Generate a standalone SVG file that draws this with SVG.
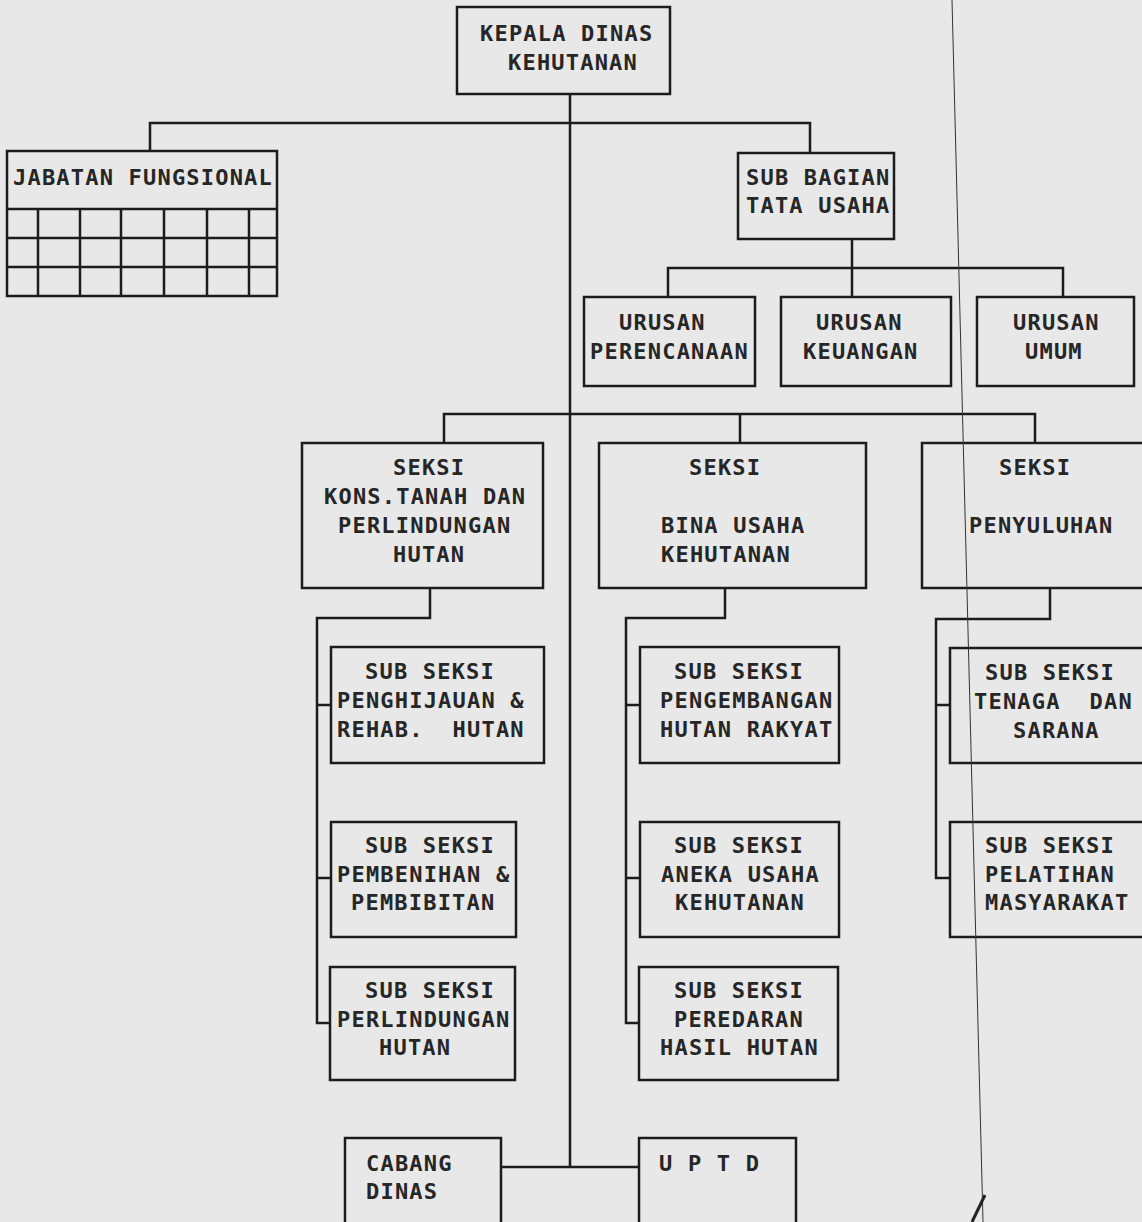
<svg xmlns="http://www.w3.org/2000/svg" width="1142" height="1222" viewBox="0 0 1142 1222">
<style>
.box{fill:none;stroke:#1c1c1c;stroke-width:2.5}
.con{fill:none;stroke:#1c1c1c;stroke-width:2.5}
text{font-family:"DejaVu Sans Mono","Liberation Mono",monospace;font-size:22px;font-weight:bold;letter-spacing:1.2px;fill:#262626}
</style>
<rect width="1142" height="1222" fill="#e8e8e8"/>
<g id="connectors">
<path class="con" d="M570 94 V1167"/>
<path class="con" d="M150 151 V123 H810 V153"/>
<path class="con" d="M852 239 V297 M668 297 V268 H1063 V297"/>
<path class="con" d="M444 443 V414 H1035 V443 M740 414 V443"/>
<path class="con" d="M430 588 V618 H317 V1023 H330 M317 705 H331 M317 878 H331"/>
<path class="con" d="M725 588 V618 H626 V1023 H639 M626 705 H640 M626 878 H640"/>
<path class="con" d="M1050 588 V619 H936 V878 H950 M936 705 H950"/>
<path class="con" d="M501 1167 H639"/>
</g>
<g id="kepala">
<rect class="box" x="457" y="7" width="213" height="87"/>
<text x="480" y="41">KEPALA DINAS</text>
<text x="508" y="70">KEHUTANAN</text>
</g>
<g id="jabatan">
<rect class="box" x="7" y="151" width="270" height="145"/>
<text x="13" y="185">JABATAN FUNGSIONAL</text>
<path class="con" d="M7 209 H277 M7 238 H277 M7 267 H277 M38 209 V296 M80 209 V296 M121 209 V296 M164 209 V296 M207 209 V296 M249 209 V296"/>
</g>
<g id="subbagian">
<rect class="box" x="738" y="153" width="156" height="86"/>
<text x="746" y="185">SUB BAGIAN</text>
<text x="746" y="213">TATA USAHA</text>
</g>
<g id="urusan-perencanaan">
<rect class="box" x="584" y="297" width="171" height="89"/>
<text x="619" y="330">URUSAN</text>
<text x="590" y="359">PERENCANAAN</text>
</g>
<g id="urusan-keuangan">
<rect class="box" x="781" y="297" width="170" height="89"/>
<text x="816" y="330">URUSAN</text>
<text x="803" y="359">KEUANGAN</text>
</g>
<g id="urusan-umum">
<rect class="box" x="977" y="297" width="157" height="89"/>
<text x="1013" y="330">URUSAN</text>
<text x="1025" y="359">UMUM</text>
</g>
<g id="seksi-kons">
<rect class="box" x="302" y="443" width="241" height="145"/>
<text x="393" y="475">SEKSI</text>
<text x="324" y="504">KONS.TANAH DAN</text>
<text x="338" y="533">PERLINDUNGAN</text>
<text x="393" y="562">HUTAN</text>
</g>
<g id="seksi-bina">
<rect class="box" x="599" y="443" width="267" height="145"/>
<text x="689" y="475">SEKSI</text>
<text x="661" y="533">BINA USAHA</text>
<text x="661" y="562">KEHUTANAN</text>
</g>
<g id="seksi-penyuluhan">
<rect class="box" x="922" y="443" width="240" height="145"/>
<text x="999" y="475">SEKSI</text>
<text x="969" y="533">PENYULUHAN</text>
</g>
<g id="ss-penghijauan">
<rect class="box" x="331" y="647" width="213" height="116"/>
<text x="365" y="679">SUB SEKSI</text>
<text x="337" y="708">PENGHIJAUAN &amp;</text>
<text x="337" y="737" xml:space="preserve">REHAB.  HUTAN</text>
</g>
<g id="ss-pembenihan">
<rect class="box" x="331" y="822" width="185" height="115"/>
<text x="365" y="853">SUB SEKSI</text>
<text x="337" y="882">PEMBENIHAN &amp;</text>
<text x="351" y="910">PEMBIBITAN</text>
</g>
<g id="ss-perlindungan">
<rect class="box" x="330" y="967" width="185" height="113"/>
<text x="365" y="998">SUB SEKSI</text>
<text x="337" y="1027">PERLINDUNGAN</text>
<text x="379" y="1055">HUTAN</text>
</g>
<g id="ss-pengembangan">
<rect class="box" x="640" y="647" width="199" height="116"/>
<text x="674" y="679">SUB SEKSI</text>
<text x="660" y="708">PENGEMBANGAN</text>
<text x="660" y="737">HUTAN RAKYAT</text>
</g>
<g id="ss-aneka">
<rect class="box" x="640" y="822" width="199" height="115"/>
<text x="674" y="853">SUB SEKSI</text>
<text x="661" y="882">ANEKA USAHA</text>
<text x="675" y="910">KEHUTANAN</text>
</g>
<g id="ss-peredaran">
<rect class="box" x="639" y="967" width="199" height="113"/>
<text x="674" y="998">SUB SEKSI</text>
<text x="674" y="1027">PEREDARAN</text>
<text x="660" y="1055">HASIL HUTAN</text>
</g>
<g id="ss-tenaga">
<rect class="box" x="950" y="648" width="210" height="115"/>
<text x="985" y="680">SUB SEKSI</text>
<text x="974" y="709" xml:space="preserve">TENAGA  DAN</text>
<text x="1013" y="738">SARANA</text>
</g>
<g id="ss-pelatihan">
<rect class="box" x="950" y="822" width="210" height="115"/>
<text x="985" y="853">SUB SEKSI</text>
<text x="985" y="882">PELATIHAN</text>
<text x="985" y="910">MASYARAKAT</text>
</g>
<g id="cabang">
<rect class="box" x="345" y="1138" width="156" height="100"/>
<text x="366" y="1171">CABANG</text>
<text x="366" y="1199">DINAS</text>
</g>
<g id="uptd">
<rect class="box" x="639" y="1138" width="157" height="100"/>
<text x="659" y="1171" xml:space="preserve">U P T D</text>
</g>
<path d="M952 0 L983 1222" stroke="#333" stroke-width="1" fill="none"/>
<path d="M985 1195 L972 1222" stroke="#222" stroke-width="3" fill="none"/>
</svg>
